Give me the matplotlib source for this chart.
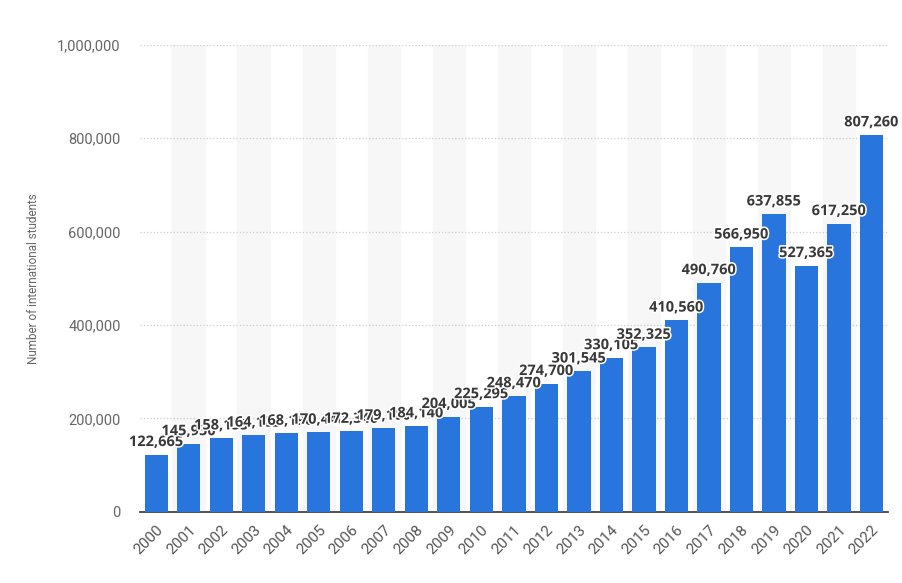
import matplotlib.pyplot as plt
import matplotlib.patheffects as pe

# data
years = [str(y) for y in range(2000, 2023)]
students = [122665, 145950, 158155, 164185, 168190, 170440, 172340, 179100,
            184140, 204005, 225295, 248470, 274700, 301545, 330105, 352325,
            410560, 490760, 566950, 637855, 527365, 617250, 807260]
yticks = [0, 200000, 400000, 600000, 800000, 1000000]

fig = plt.figure(figsize=(9.03, 5.83), dpi=100)
ax = fig.add_axes([0.155, 0.122, 0.828, 0.801])

x = range(len(years))

# alternating background bands
for i in x:
    if i % 2 == 1:
        ax.axvspan(i - 0.5, i + 0.5, color='#f7f7f7', zorder=0)

ax.bar(x, students, width=0.72, color='#2876dd', zorder=3)

for i, v in zip(x, students):
    ax.annotate(f'{v:,}', (i, v), xytext=(0, 4), textcoords='offset points',
                ha='center', va='bottom', fontsize=10.5, family='Open Sans',
                fontweight='bold', color='#393939', zorder=4, clip_on=False,
                path_effects=[pe.withStroke(linewidth=2.2, foreground='white')])

ax.set_xlim(-0.5, len(years) - 0.5)
ax.set_ylim(0, 1000000)
ax.set_yticks(yticks)
ax.set_yticklabels([f'{t:,}' for t in yticks], color='#666666', fontsize=10.5,
                   family='Roboto')
ax.set_xticks(list(x))
ax.set_xticklabels(years, rotation=45, ha='right', rotation_mode='anchor',
                   color='#555555', fontsize=11, family='Roboto')

ax.yaxis.grid(True, linestyle=':', color='#cccccc', linewidth=0.9, zorder=1)
ax.set_axisbelow(True)
for s in ['top', 'right', 'left']:
    ax.spines[s].set_visible(False)
ax.spines['bottom'].set_color('#444444')
ax.spines['bottom'].set_linewidth(1.3)
ax.tick_params(axis='both', length=0, pad=8)
ax.tick_params(axis='y', pad=14)

ax.set_ylabel('Number of international students', fontsize=8.5, color='#666666',
              family='Roboto')
ax.yaxis.set_label_coords(-0.134, 0.5)

plt.savefig('out.png', dpi=100)
